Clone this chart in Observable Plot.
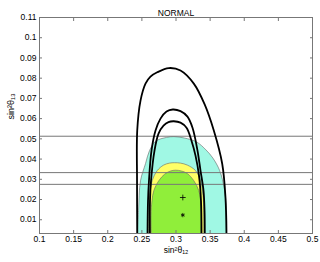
<!DOCTYPE html>
<html><head><meta charset="utf-8">
<script src="https://cdn.jsdelivr.net/npm/d3@7"></script>
<script src="https://cdn.jsdelivr.net/npm/@observablehq/plot@0.6"></script>
<style>body{margin:0;background:#fff} svg{display:block}</style>
</head><body><div id="chart"></div>
<script>
const title = "NORMAL";
const xLabel = "sin²θ₁₂";
const yLabel = "sin²θ₁₃";
const xTicks = [0.1, 0.15, 0.2, 0.25, 0.3, 0.35, 0.4, 0.45, 0.5];
const yTicks = [0.01, 0.02, 0.03, 0.04, 0.05, 0.06, 0.07, 0.08, 0.09, 0.1, 0.11];
const hLines = [0.0513, 0.0333, 0.0275];

const cyanX = [0.2436, 0.2451, 0.2480, 0.2553, 0.2612, 0.2700, 0.2861, 0.2968, 0.3125, 0.3300, 0.3440, 0.3540, 0.3640, 0.3710, 0.3740, 0.3740];
const cyanY = [0.0000, 0.0145, 0.0293, 0.0377, 0.0442, 0.0488, 0.0507, 0.0511, 0.0504, 0.0485, 0.0445, 0.0405, 0.0343, 0.0250, 0.0145, 0.0000];

const yellowX = [0.2597, 0.2601, 0.2612, 0.2651, 0.2725, 0.2817, 0.2905, 0.2978, 0.3066, 0.3168, 0.3286, 0.3359, 0.3396, 0.3407, 0.3407];
const yellowY = [0.0000, 0.0145, 0.0219, 0.0293, 0.0343, 0.0370, 0.0380, 0.0382, 0.0380, 0.0370, 0.0343, 0.0293, 0.0219, 0.0145, 0.0000];

const greenX = [0.2641, 0.2634, 0.2648, 0.2675, 0.2748, 0.2832, 0.2919, 0.2993, 0.3081, 0.3168, 0.3261, 0.3334, 0.3366, 0.3369, 0.3366];
const greenY = [0.0000, 0.0120, 0.0194, 0.0244, 0.0293, 0.0325, 0.0341, 0.0345, 0.0341, 0.0328, 0.0293, 0.0244, 0.0169, 0.0095, 0.0000];

const outerX = [0.2432, 0.2429, 0.2432, 0.2480, 0.2553, 0.2626, 0.2725, 0.2895, 0.3066, 0.3261, 0.3420, 0.3554, 0.3677, 0.3725, 0.3740];
const outerY = [0.0000, 0.0293, 0.0541, 0.0689, 0.0773, 0.0808, 0.0829, 0.0850, 0.0838, 0.0773, 0.0670, 0.0541, 0.0377, 0.0209, 0.0000];

const midX = [0.2582, 0.2590, 0.2604, 0.2641, 0.2700, 0.2773, 0.2861, 0.2953, 0.3066, 0.3168, 0.3242, 0.3315, 0.3359, 0.3403, 0.3418, 0.3422];
const midY = [0.0000, 0.0194, 0.0293, 0.0442, 0.0541, 0.0600, 0.0635, 0.0645, 0.0637, 0.0610, 0.0555, 0.0442, 0.0343, 0.0244, 0.0145, 0.0000];

const innerX = [0.2619, 0.2619, 0.2634, 0.2685, 0.2744, 0.2817, 0.2890, 0.2968, 0.3066, 0.3154, 0.3227, 0.3286, 0.3337, 0.3366, 0.3374];
const innerY = [0.0000, 0.0194, 0.0293, 0.0442, 0.0526, 0.0565, 0.0583, 0.0587, 0.0580, 0.0555, 0.0491, 0.0417, 0.0318, 0.0194, 0.0000];

const bestFit = [{x: 0.3100, y: 0.0210, s: "plus"}, {x: 0.3100, y: 0.0123, s: "asterisk"}];

const pts = (xs, ys) => xs.map((x, i) => ({x, y: ys[i]}));
const filled = (xs, ys, color) => Plot.line(pts(xs, ys), {x: "x", y: "y", fill: color, stroke: "#666", strokeWidth: 0.6, curve: "catmull-rom", clip: true});
const black = (xs, ys) => Plot.line(pts(xs, ys), {x: "x", y: "y", stroke: "#000", strokeWidth: 1.8, curve: "catmull-rom", clip: true});
const noText = () => "";

const chart = Plot.plot({
  width: 320, height: 262,
  marginTop: 17, marginBottom: 29, marginLeft: 39, marginRight: 8,
  style: {fontFamily: "'Liberation Sans', Arial, sans-serif", fontSize: "8.5px", background: "white", color: "black"},
  x: {domain: [0.1, 0.5]},
  y: {domain: [0.0032, 0.11]},
  marks: [
    filled(cyanX, cyanY, "#a0f8e4"),
    filled(yellowX, yellowY, "#ffff66"),
    filled(greenX, greenY, "#90ee3a"),
    Plot.ruleY(hLines, {stroke: "#777", strokeWidth: 1}),
    black(outerX, outerY),
    black(midX, midY),
    black(innerX, innerY),
    Plot.dot(bestFit, {x: "x", y: "y", symbol: "s", r: 2, stroke: "#000", strokeWidth: 0.8}),
    Plot.frame({stroke: "#777"}),
    Plot.axisX(xTicks, {anchor: "bottom", tickSize: -3, tickPadding: 5, tickFormat: d => String(d), label: null, stroke: "#777", fill: "black"}),
    Plot.axisX(xTicks, {anchor: "top", tickSize: -3, tickFormat: noText, label: null, stroke: "#777"}),
    Plot.axisY(yTicks, {anchor: "left", tickSize: -3, tickPadding: 6, tickFormat: d => String(d), label: null, stroke: "#777", fill: "black"}),
    Plot.axisY(yTicks, {anchor: "right", tickSize: -3, tickFormat: noText, label: null, stroke: "#777"}),
    Plot.text([title], {frameAnchor: "top", dy: -8, fontSize: 8.5}),
    Plot.text([xLabel], {frameAnchor: "bottom", dy: 19, fontSize: 8.5}),
    Plot.text([yLabel], {frameAnchor: "left", dx: -28, dy: -6, rotate: -90, fontSize: 9})
  ]
});
document.getElementById("chart").appendChild(chart);
</script>
</body></html>
